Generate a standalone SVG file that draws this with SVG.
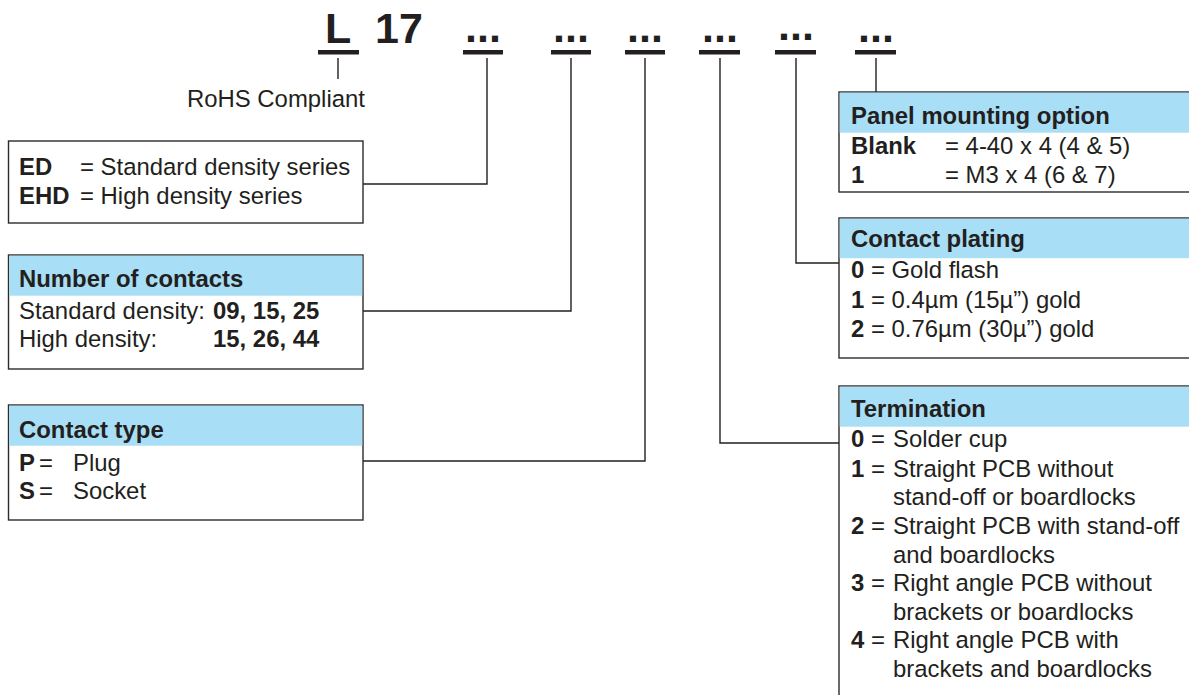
<svg xmlns="http://www.w3.org/2000/svg" width="1189" height="695" viewBox="0 0 1189 695">
<style>
text{font-family:"Liberation Sans",Arial,sans-serif;fill:#231F20;font-size:23.9px}
.b{font-weight:bold}
.big{font-weight:bold;font-size:43px}
.box{fill:#fff;stroke:#2b2b2b;stroke-width:1.4}
.hdr{fill:#A8DEF6}
.ln{fill:none;stroke:#231F20;stroke-width:1.4}
.bar{fill:#231F20}
</style>
<rect width="1189" height="695" fill="#fff"/>
<g id="code">
<text class="big" x="325" y="43">L</text>
<text class="big" x="375" y="43">17</text>
<rect class="bar" x="318" y="50" width="41" height="4.5"/>
<text class="big" x="483" y="42" text-anchor="middle">...</text>
<rect class="bar" x="463" y="50" width="40" height="4.5"/>
<text class="big" x="571" y="42" text-anchor="middle">...</text>
<rect class="bar" x="551" y="50" width="40" height="4.5"/>
<text class="big" x="645" y="42" text-anchor="middle">...</text>
<rect class="bar" x="625" y="50" width="40" height="4.5"/>
<text class="big" x="720" y="42" text-anchor="middle">...</text>
<rect class="bar" x="699" y="50" width="41" height="4.5"/>
<text class="big" x="796" y="40" text-anchor="middle">...</text>
<rect class="bar" x="775" y="50" width="41" height="4.5"/>
<text class="big" x="876" y="42" text-anchor="middle">...</text>
<rect class="bar" x="855" y="50" width="41" height="4.5"/>
</g>
<g id="rohs">
<text x="187" y="107">RoHS Compliant</text>
</g>
<g id="connectors">
<path class="ln" d="M338 58V79"/>
<path class="ln" d="M487 58V184H363"/>
<path class="ln" d="M571 58V311H363"/>
<path class="ln" d="M645 58V461H363"/>
<path class="ln" d="M720 58V443H839"/>
<path class="ln" d="M796 58V263H839"/>
<path class="ln" d="M876 58V92"/>
</g>
<g id="series">
<rect class="box" x="8.5" y="141" width="354.5" height="82"/>
<text x="19" y="175"><tspan class="b">ED</tspan></text>
<text x="80" y="175">= Standard density series</text>
<text x="19" y="204"><tspan class="b">EHD</tspan></text>
<text x="80" y="204">= High density series</text>
</g>
<g id="contacts">
<rect class="box" x="8.5" y="255" width="354.5" height="114"/>
<rect class="hdr" x="9.2" y="255.7" width="353.1" height="40"/>
<text class="b" x="19" y="287">Number of contacts</text>
<text x="19" y="319">Standard density: <tspan class="b" x="213">09, 15, 25</tspan></text>
<text x="19" y="347">High density: <tspan class="b" x="213">15, 26, 44</tspan></text>
</g>
<g id="ctype">
<rect class="box" x="8.5" y="405" width="354.5" height="115"/>
<rect class="hdr" x="9.2" y="405.7" width="353.1" height="40"/>
<text class="b" x="19" y="438">Contact type</text>
<text x="19" y="471"><tspan class="b">P</tspan><tspan x="39">=</tspan><tspan x="73">Plug</tspan></text>
<text x="19" y="499"><tspan class="b">S</tspan><tspan x="39">=</tspan><tspan x="73">Socket</tspan></text>
</g>
<g id="panel">
<rect class="box" x="839" y="92" width="360" height="100"/>
<rect class="hdr" x="839.7" y="92.7" width="360" height="40"/>
<text class="b" x="851" y="124">Panel mounting option</text>
<text class="b" x="851" y="154">Blank</text>
<text x="945" y="154">= 4-40 x 4 (4 &amp; 5)</text>
<text class="b" x="851" y="183">1</text>
<text x="945" y="183">= M3 x 4 (6 &amp; 7)</text>
</g>
<g id="plating">
<rect class="box" x="839" y="218" width="360" height="140"/>
<rect class="hdr" x="839.7" y="218.7" width="360" height="39.5"/>
<text class="b" x="851" y="247">Contact plating</text>
<text x="851" y="278"><tspan class="b">0</tspan> = Gold flash</text>
<text x="851" y="308"><tspan class="b">1</tspan> = 0.4µm (15µ”) gold</text>
<text x="851" y="337"><tspan class="b">2</tspan> = 0.76µm (30µ”) gold</text>
</g>
<g id="termination">
<rect class="box" x="839" y="386" width="360" height="320"/>
<rect class="hdr" x="839.7" y="386.7" width="360" height="40"/>
<text class="b" x="851" y="417">Termination</text>
<text x="851" y="447"><tspan class="b">0</tspan><tspan x="871">=</tspan><tspan x="893">Solder cup</tspan></text>
<text x="851" y="477"><tspan class="b">1</tspan><tspan x="871">=</tspan><tspan x="893">Straight PCB without</tspan></text>
<text x="893" y="505">stand-off or boardlocks</text>
<text x="851" y="534"><tspan class="b">2</tspan><tspan x="871">=</tspan><tspan x="893">Straight PCB with stand-off</tspan></text>
<text x="893" y="563">and boardlocks</text>
<text x="851" y="591"><tspan class="b">3</tspan><tspan x="871">=</tspan><tspan x="893">Right angle PCB without</tspan></text>
<text x="893" y="620">brackets or boardlocks</text>
<text x="851" y="648"><tspan class="b">4</tspan><tspan x="871">=</tspan><tspan x="893">Right angle PCB with</tspan></text>
<text x="893" y="677">brackets and boardlocks</text>
</g>
</svg>
